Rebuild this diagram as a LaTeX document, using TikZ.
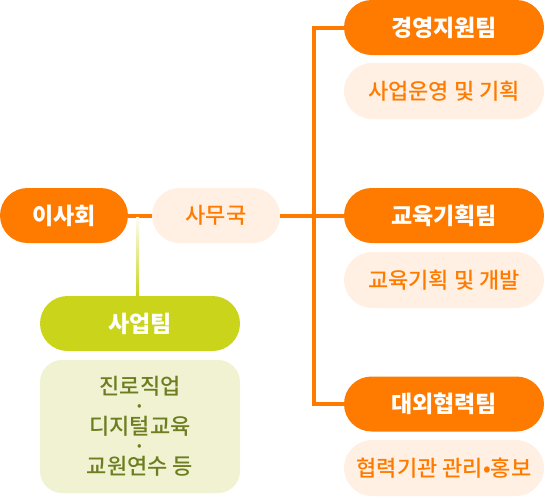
\documentclass[tikz,border=0pt]{standalone}
\usepackage{fontspec}
\setmainfont{Noto Sans CJK KR}
\newfontfamily\krmedium{Noto Sans CJK KR Medium}
\usetikzlibrary{positioning}

\definecolor{mainorange}{RGB}{255,123,0}
\definecolor{paleorange}{RGB}{255,240,227}
\definecolor{limegreen}{RGB}{201,212,26}
\definecolor{palelime}{RGB}{240,242,210}
\definecolor{olivetext}{RGB}{110,125,31}

\begin{document}
\begin{tikzpicture}[
    x=1pt, y=-1pt,
    team/.style={
        rectangle,
        rounded corners=27.5pt,
        fill=mainorange,
        text=white,
        minimum width=200pt,
        minimum height=55pt,
        inner sep=0pt,
        font=\fontsize{23}{24}\selectfont\bfseries
    },
    duty/.style={
        rectangle,
        rounded corners=28pt,
        fill=paleorange,
        text=mainorange,
        minimum width=200pt,
        minimum height=56pt,
        inner sep=0pt,
        font=\fontsize{22}{24}\selectfont\krmedium
    },
    link/.style={
        draw=mainorange,
        line width=4pt
    }
]
\useasboundingbox (0,0) rectangle (544,496);

% Left side: board and office
\node[team, minimum width=128pt] (board) at (64,215.5) {이사회};
\node[duty, minimum width=128pt, minimum height=55pt, rounded corners=27.5pt] (office) at (216,215.5) {사무국};

% Right column: teams and their duties
\node[team] (mgmt) at (444,27.5) {경영지원팀};
\node[duty] (mgmtduty) at (444,91) {사업운영 및 기획};

\node[team] (edu) at (444,215.5) {교육기획팀};
\node[duty] (eduduty) at (444,280) {교육기획 및 개발};

\node[team] (ext) at (444,404) {대외협력팀};
\node[duty] (extduty) at (444,468) {협력기관 관리•홍보};

% Business team below
\node[team, fill=limegreen] (biz) at (140,323.5) {사업팀};
\node[rectangle, rounded corners=22pt, fill=palelime, text=olivetext,
      minimum width=200pt, minimum height=133pt, align=center,
      font=\fontsize{22}{20}\selectfont\krmedium] (bizduty) at (140,426.5)
      {진로직업\\·\\디지털교육\\·\\교원연수 등};

% Connectors
\coordinate (trunk) at (314,215.5);
\coordinate (split) at (137.5,215.5);
\draw[link] (board.east) -- (office.west);
\draw[link] (office.east) -- (edu.west);
\draw[link] (mgmt.west) -- (mgmt.west -| trunk) -- (ext.west -| trunk) -- (ext.west);
\shade[top color=limegreen!4, bottom color=limegreen]
    ([xshift=-1.5pt, yshift=-2pt]split) rectangle ([xshift=1.5pt]biz.north -| split);

\end{tikzpicture}
\end{document}
